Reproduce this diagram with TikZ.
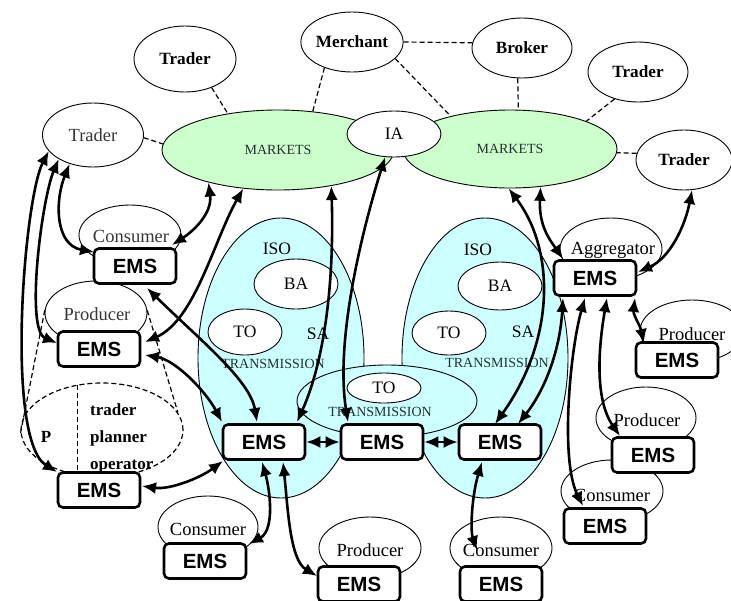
\documentclass[tikz,border=0pt]{standalone}
\usepackage{fontspec}
\setmainfont{Liberation Serif}
\newfontfamily\emsfont{Liberation Sans}
\usetikzlibrary{shapes.geometric,arrows.meta,calc}
\definecolor{mktgreen}{RGB}{204,255,204}
\definecolor{isocyan}{RGB}{204,255,255}
\definecolor{dimtext}{RGB}{35,50,50}
\definecolor{lbltext}{RGB}{55,55,55}
\tikzset{
  ell/.style={ellipse, draw, line width=0.9pt, inner sep=0pt, fill=white},
  mkt/.style={ellipse, draw, line width=0.9pt, inner sep=0pt, fill=mktgreen, font=\fontsize{14}{16}\selectfont, text=dimtext},
  iso/.style={ellipse, draw, line width=0.9pt, fill=isocyan, minimum width=166pt, minimum height=280pt, inner sep=0pt},
  ems/.style={draw, line width=2.6pt, rounded corners=5pt, fill=white, minimum width=82pt, minimum height=35pt, inner sep=0pt, font=\emsfont\bfseries\fontsize{20.5}{22}\selectfont},
  boldlbl/.style={font=\bfseries\fontsize{17.2}{19}\selectfont},
  reglbl/.style={font=\fontsize{18.5}{20}\selectfont},
  isolbl/.style={font=\fontsize{17.5}{19}\selectfont},
  translbl/.style={font=\fontsize{14}{16}\selectfont, text=dimtext},
  poplbl/.style={font=\bfseries\fontsize{17}{18}\selectfont, inner sep=0pt},
  dashline/.style={line width=1.2pt, dash pattern=on 5pt off 3pt},
  link/.style={line width=2.6pt, {Latex[length=14pt,width=12pt]}-{Latex[length=14pt,width=12pt]}},
}
\begin{document}
\begin{tikzpicture}[x=1pt,y=-1pt]
\useasboundingbox (0,0) rectangle (731,600);

% ISO areas
\node[iso] (isoL) at (281,358) {};
\node[iso] (isoR) at (485,358) {};
\node[ell, fill=isocyan, minimum width=180pt, minimum height=72pt] (transC) at (387,401) {};
\node[ell, isolbl, minimum width=74pt, minimum height=30pt] (toC) at (384,388) {TO};
\node[ell, isolbl, minimum width=84pt, minimum height=50pt] (baL) at (296,284) {BA};
\node[ell, isolbl, minimum width=74pt, minimum height=46pt] (toL) at (245,332) {TO};
\node[ell, isolbl, minimum width=84pt, minimum height=48pt] (baR) at (500,286) {BA};
\node[ell, isolbl, minimum width=74pt, minimum height=44pt] (toR) at (449,333) {TO};
\node[isolbl] (isoLt) at (277,249) {ISO};
\node[isolbl] (saL) at (318,334) {SA};
\node[isolbl] (isoRt) at (478,250) {ISO};
\node[isolbl] (saR) at (523,332) {SA};
\node[translbl] (trsL) at (273,364) {TRANSMISSION};
\node[translbl] (trsR) at (497,363) {TRANSMISSION};
\node[translbl] (trsC) at (380,412) {TRANSMISSION};

% markets
\node[mkt, minimum width=232pt, minimum height=80pt] (mktL) at (278,150) {MARKETS};
\node[mkt, minimum width=214pt, minimum height=78pt] (mktR) at (510,149) {MARKETS};
\node[ell, isolbl, minimum width=94pt, minimum height=46pt] (ia) at (394,134) {IA};

% market participants
\node[ell, boldlbl, minimum width=102pt, minimum height=66pt] (trT) at (185,59) {Trader};
\node[ell, boldlbl, minimum width=102pt, minimum height=60pt] (merch) at (352,42) {Merchant};
\node[ell, boldlbl, minimum width=100pt, minimum height=60pt] (brok) at (522,48) {Broker};
\node[ell, boldlbl, minimum width=100pt, minimum height=60pt] (trR1) at (638,72) {Trader};
\node[ell, boldlbl, minimum width=96pt, minimum height=60pt] (trR2) at (684,160) {Trader};
\node[ell, reglbl, text=lbltext, minimum width=101pt, minimum height=64pt] (trL) at (93,135) {Trader};

% label ellipses
\node[ell, minimum width=102pt, minimum height=60pt] (lCons1) at (130,235) {};
\node[ell, minimum width=102pt, minimum height=64pt] (lProd1) at (96,313) {};
\node[ellipse, draw, dashline, inner sep=0pt, minimum width=162pt, minimum height=94pt] (pEll) at (102,430) {};
\node[ell, minimum width=102pt, minimum height=62pt] (lAgg) at (611,249) {};
\node[ell, minimum width=104pt, minimum height=62pt] (lProdR1) at (692,331) {};
\node[ell, minimum width=100pt, minimum height=62pt] (lProdR2) at (646,418) {};
\node[ell, minimum width=102pt, minimum height=62pt] (lConsR) at (612,491) {};
\node[ell, minimum width=100pt, minimum height=62pt] (lConsB1) at (208,527) {};
\node[ell, minimum width=102pt, minimum height=62pt] (lProdB) at (370,548) {};
\node[ell, minimum width=102pt, minimum height=62pt] (lConsB2) at (501,548) {};

\node[reglbl, text=lbltext] (tCons1) at (131,236) {Consumer};
\node[reglbl, text=lbltext] (tProd1) at (97,314) {Producer};
\node[reglbl] (tAgg) at (613,250) {Aggregator};
\node[reglbl] (tProdR1) at (692,334) {Producer};
\node[reglbl] (tProdR2) at (647,420) {Producer};
\node[reglbl] (tConsR) at (612,495) {Consumer};
\node[reglbl] (tConsB1) at (208,529) {Consumer};
\node[reglbl] (tProdB) at (370,550) {Producer};
\node[reglbl] (tConsB2) at (501,550) {Consumer};

% P ellipse texts
\node[poplbl] (pP) at (46,437) {P};
\node[poplbl, anchor=base west] (pTr) at (90,415) {trader};
\node[poplbl, anchor=base west] (pPl) at (90,442) {planner};
\node[poplbl, anchor=base west] (pOp) at (90,469) {operator};

% EMS boxes
\node[ems] (e1) at (135,266) {EMS};
\node[ems] (e2) at (99,349) {EMS};
\node[ems] (e3) at (99,490) {EMS};
\node[ems] (e4) at (264,442) {EMS};
\node[ems] (e5) at (382,442) {EMS};
\node[ems] (e6) at (500,442) {EMS};
\node[ems] (e7) at (205,561) {EMS};
\node[ems] (e8) at (359,584) {EMS};
\node[ems] (e9) at (501,584) {EMS};
\node[ems] (e10) at (595,278) {EMS};
\node[ems] (e11) at (677,360) {EMS};
\node[ems] (e12) at (653,455) {EMS};
\node[ems] (e13) at (605,526) {EMS};

% dashed relations
\draw[dashline] (trT.313) -- (mktL.144);
\draw[dashline] (merch.223) -- (mktL.48);
\draw[dashline] (merch.339) -- (mktR.151);
\draw[dashline] (merch.east) -- (brok.174);
\draw[dashline] (brok.262) -- (mktR.78);
\draw[dashline] (trR1.229) -- (mktR.20);
\draw[dashline] (trR2.172) -- (mktR.358);
\draw[dashline] (trL.357) -- (mktL.177);
\draw[dashline] (lProd1.177) -- (pEll.182);
\draw[dashline] (lProd1.3) -- (pEll.13);
\draw[dashline] (pEll.118) -- (pEll.118 |- e3.north);

% links
\draw[link] (trL.200) .. controls +(-25,48) and +(-52,-32) .. ($(e3)+(-42,-18)$);
\draw[link] (trL.215) .. controls +(-17,40) and +(-32,-13) .. ($(e2)+(-42,-6)$);
\draw[link] (trL.231) .. controls +(-15,37) and +(-39,-7) .. ($(e1)+(-41,-14)$);
\draw[link] (mktL.205) .. controls +(4,30) and +(23,-15) .. ($(e1)+(37,-21)$);
\draw[link] (mktL.228) .. controls +(-29,51) and +(50,-22) .. ($(e2)+(46,-7)$);
\draw[link] ($(e1)+(12,22)$) .. controls +(53,52) and +(-7,-42) .. ($(e4)+(-7,-20)$);
\draw[link] ($(e2)+(46,6)$) .. controls +(30,5) and +(-17,-32) .. ($(e4)+(-42,-20)$);
\draw[link] (mktL.326) .. controls +(3,94) and +(28,-62) .. ($(e4)+(33,-20)$);
\draw[link] (ia.249) .. controls +(-23,73) and +(-13,-82) .. ($(e5)+(-34,-20)$);
\draw[link] (e4) -- (e5);
\draw[link] (e5) -- (e6);
\draw[link] ($(e3)+(43,-4)$) .. controls +(28,4) and +(-23,17) .. ($(e4)+(-41,19)$);
\draw[link] ($(e4)+(-2,20)$) .. controls +(8,28) and +(26,-14) .. ($(e7)+(44,-17)$);
\draw[link] ($(e4)+(19,20)$) .. controls +(5,48) and +(-27,-16) .. ($(e8)+(-42,-8)$);
\draw[link] ($(e6)+(-18,20)$) .. controls +(-10,33) and +(-7,-20) .. ($(e9)+(-24,-34)$);
\draw[link] (mktR.268) .. controls +(47,62) and +(60,-84) .. ($(e6)+(-5,-18)$);
\draw[link] (mktR.309) .. controls +(-2,39) and +(-13,-19) .. ($(e10)+(-32,-19)$);
\draw[link] (trR2.285) .. controls +(-7,36) and +(32,-14) .. ($(e10)+(43,-6)$);
\draw[link] ($(e10)+(-32,20)$) .. controls +(-3,52) and +(27,-34) .. ($(e6)+(18,-18)$);
\draw[link] ($(e10)+(-10,20)$) .. controls +(-15,52) and +(-23,-46) .. ($(e13)+(-22,-20)$);
\draw[link] ($(e10)+(12,20)$) .. controls +(-9,52) and +(-25,-36) .. ($(e12)+(-33,-19)$);
\draw[link] ($(e10)+(40,20)$) .. controls +(-2,17) and +(-4,-18) .. ($(e11)+(-33,-17)$);
\end{tikzpicture}
\end{document}
